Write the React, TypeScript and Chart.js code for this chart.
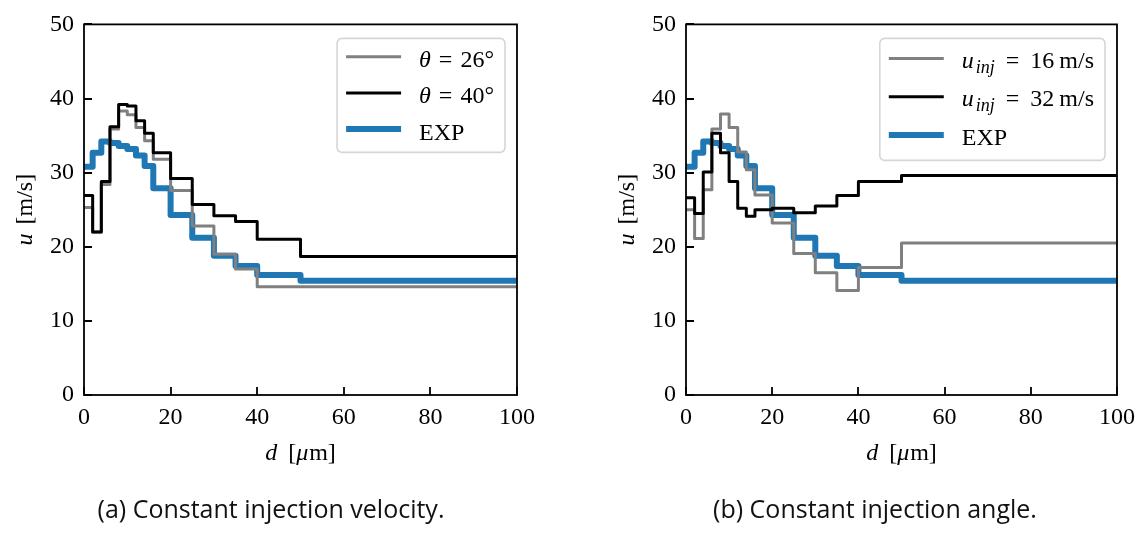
import React, { useEffect, useRef } from "react";
import { Chart, registerables } from "chart.js";

Chart.register(...registerables);

// ---------- data ----------
const binEdges = [0, 2, 4, 6, 8, 10, 12, 14, 16, 20, 25, 30, 35, 40, 50, 100];
const expValues = [30.8, 32.7, 34.2, 34.0, 33.6, 33.2, 32.3, 30.9, 27.9, 24.3, 21.2, 18.8, 17.4, 16.2, 15.4];
const theta26Values = [25.3, 22.0, 28.4, 35.9, 38.3, 37.8, 36.1, 34.3, 31.8, 27.6, 22.8, 19.0, 17.0, 14.6, 14.6];
const theta40Values = [26.9, 22.0, 28.8, 36.2, 39.2, 39.0, 37.0, 35.3, 32.7, 29.2, 25.7, 24.2, 23.4, 21.0, 18.7];
const uinj16Values = [25.0, 21.1, 27.7, 35.9, 37.9, 36.1, 32.8, 30.4, 27.0, 23.2, 19.1, 16.5, 14.1, 17.2, 20.5];
const uinj32Values = [26.6, 24.5, 30.1, 35.3, 32.7, 28.8, 25.2, 24.1, 25.0, 25.2, 24.6, 25.5, 26.9, 28.8, 29.6];
const xTicks = [0, 20, 40, 60, 80, 100];
const yTicks = [0, 10, 20, 30, 40, 50];
const captionA = "(a) Constant injection velocity.";
const captionB = "(b) Constant injection angle.";

// ---------- text helpers ----------
type Run = { t: string; it?: boolean; sub?: boolean; dx?: number };
const FS = 24;
const SERIF = '"Liberation Serif", "Times New Roman", serif';

function fontOf(r: Run, size: number) {
  const s = r.sub ? Math.round(size * 0.74) : size;
  return `${r.it ? "italic " : ""}${s}px ${SERIF}`;
}
function runsWidth(ctx: CanvasRenderingContext2D, runs: Run[], size: number) {
  let w = 0;
  for (const r of runs) {
    ctx.font = fontOf(r, size);
    w += ctx.measureText(r.t).width + (r.dx || 0);
  }
  return w;
}
function drawRuns(ctx: CanvasRenderingContext2D, runs: Run[], x: number, y: number, size: number) {
  let cx = x;
  for (const r of runs) {
    ctx.font = fontOf(r, size);
    cx += r.dx || 0;
    ctx.fillText(r.t, cx, r.sub ? y + size * 0.22 : y);
    cx += ctx.measureText(r.t).width;
  }
}

type Series = { values: number[]; color: string; width: number; label: Run[]; order: number };

type PanelCfg = {
  series: Series[];
  axisLeft: number; // width reserved for y axis
  padRight: number;
  caption: string;
  captionX: number;
  legendRowGap: number;
  legendFirst: number;
  legendHeight: number;
  legendTextDy: number;
};

function toSteps(vals: number[]) {
  const pts = vals.map((v, i) => ({ x: binEdges[i], y: v }));
  pts.push({ x: binEdges[binEdges.length - 1], y: vals[vals.length - 1] });
  return pts;
}

function makeOverlay(cfg: PanelCfg) {
  return {
    id: "overlay",
    afterDraw(chart: any) {
      const { ctx, chartArea } = chart;
      const { left, right, top, bottom } = chartArea;
      const xs = chart.scales.x;
      const ys = chart.scales.y;
      ctx.save();
      ctx.strokeStyle = "#000";
      ctx.lineWidth = 1.8;
      ctx.lineCap = "butt";
      // inward ticks
      ctx.beginPath();
      for (const v of xTicks) {
        const px = Math.round(xs.getPixelForValue(v));
        ctx.moveTo(px, bottom);
        ctx.lineTo(px, bottom - 8);
      }
      for (const v of yTicks) {
        const py = Math.round(ys.getPixelForValue(v));
        ctx.moveTo(left, py);
        ctx.lineTo(left + 8, py);
      }
      ctx.stroke();
      // frame
      ctx.strokeRect(left, top, right - left, bottom - top);

      // x label
      ctx.fillStyle = "#000";
      ctx.textBaseline = "alphabetic";
      ctx.textAlign = "left";
      const xl: Run[] = [{ t: "d", it: true }, { t: "[", dx: 11 }, { t: "μ", it: true }, { t: "m]", dx: 1 }];
      const xw = runsWidth(ctx, xl, FS);
      drawRuns(ctx, xl, (left + right) / 2 - xw / 2, 460, FS);

      // y label
      const yl: Run[] = [{ t: "u", it: true }, { t: "[m/s]", dx: 9 }];
      const yw = runsWidth(ctx, yl, FS);
      ctx.save();
      ctx.translate(left - 52, (top + bottom) / 2);
      ctx.rotate(-Math.PI / 2);
      drawRuns(ctx, yl, -yw / 2, 0, FS);
      ctx.restore();

      // legend
      let maxW = 0;
      for (const s of cfg.series) maxW = Math.max(maxW, runsWidth(ctx, s.label, FS));
      const handleLen = 55;
      const padL = 9;
      const gap = 18;
      const padR = 11;
      const boxW = padL + handleLen + gap + maxW + padR;
      const boxR = right - 12;
      const boxL = boxR - boxW;
      const boxT = top + 14;
      const boxH = cfg.legendHeight;
      const rad = 5;
      ctx.beginPath();
      ctx.moveTo(boxL + rad, boxT);
      ctx.lineTo(boxR - rad, boxT);
      ctx.arcTo(boxR, boxT, boxR, boxT + rad, rad);
      ctx.lineTo(boxR, boxT + boxH - rad);
      ctx.arcTo(boxR, boxT + boxH, boxR - rad, boxT + boxH, rad);
      ctx.lineTo(boxL + rad, boxT + boxH);
      ctx.arcTo(boxL, boxT + boxH, boxL, boxT + boxH - rad, rad);
      ctx.lineTo(boxL, boxT + rad);
      ctx.arcTo(boxL, boxT, boxL + rad, boxT, rad);
      ctx.closePath();
      ctx.fillStyle = "rgba(255,255,255,0.85)";
      ctx.fill();
      ctx.strokeStyle = "#d6d6d6";
      ctx.lineWidth = 1.6;
      ctx.stroke();
      cfg.series.forEach((s, i) => {
        const ly = boxT + cfg.legendFirst + i * cfg.legendRowGap;
        ctx.strokeStyle = s.color;
        ctx.lineWidth = s.width;
        ctx.lineCap = "butt";
        ctx.beginPath();
        ctx.moveTo(boxL + padL, ly);
        ctx.lineTo(boxL + padL + handleLen, ly);
        ctx.stroke();
        ctx.fillStyle = "#000";
        drawRuns(ctx, s.label, boxL + padL + handleLen + gap, ly + cfg.legendTextDy, FS);
      });

      // caption
      ctx.font = '25px "Open Sans", "Noto Sans", sans-serif';
      ctx.fillStyle = "#111";
      ctx.textAlign = "center";
      ctx.fillText(cfg.caption, cfg.captionX, 518);
      ctx.restore();
    },
  };
}

function Panel({ cfg, width }: { cfg: PanelCfg; width: number }) {
  const ref = useRef<HTMLCanvasElement | null>(null);
  useEffect(() => {
    if (!ref.current) return;
    const tickFont = { family: SERIF, size: FS };
    const chart = new Chart(ref.current, {
      type: "line",
      data: {
        datasets: cfg.series.map((s) => ({
          label: s.label.map((r) => r.t).join(""),
          data: toSteps(s.values),
          borderColor: s.color,
          backgroundColor: s.color,
          borderWidth: s.width,
          stepped: true,
          pointRadius: 0,
          fill: false,
          clip: 0,
          order: s.order,
          borderJoinStyle: "round",
          borderCapStyle: "butt",
        })),
      },
      options: {
        animation: false,
        responsive: false,
        maintainAspectRatio: false,
        layout: { padding: { left: 0, right: cfg.padRight, top: 21, bottom: 0 } },
        plugins: { legend: { display: false }, tooltip: { enabled: false } },
        scales: {
          x: {
            type: "linear",
            min: 0,
            max: 100,
            afterBuildTicks: (s: any) => {
              s.ticks = xTicks.map((v) => ({ value: v }));
            },
            grid: { display: false, drawTicks: false },
            border: { display: false },
            ticks: { font: tickFont, color: "#000", padding: 8, maxRotation: 0, autoSkip: false },
            afterFit: (s: any) => {
              s.height = 140;
            },
          },
          y: {
            type: "linear",
            min: 0,
            max: 50,
            afterBuildTicks: (s: any) => {
              s.ticks = yTicks.map((v) => ({ value: v }));
            },
            grid: { display: false, drawTicks: false },
            border: { display: false },
            ticks: { font: tickFont, color: "#000", padding: 10, autoSkip: false },
            afterFit: (s: any) => {
              s.width = cfg.axisLeft;
            },
          },
        },
      } as any,
      plugins: [makeOverlay(cfg)],
    });
    return () => chart.destroy();
  }, []);
  return <canvas ref={ref} width={width} height={535} style={{ display: "block", width, height: 535 }} />;
}

const GRAY = "#808080";
const BLACK = "#000000";
const BLUE = "#1f77b4";

const panelA: PanelCfg = {
  series: [
    {
      values: theta26Values,
      color: GRAY,
      width: 3,
      order: 1,
      label: [{ t: "θ", it: true }, { t: "=", dx: 8 }, { t: "26°", dx: 8 }],
    },
    {
      values: theta40Values,
      color: BLACK,
      width: 3,
      order: 0,
      label: [{ t: "θ", it: true }, { t: "=", dx: 8 }, { t: "40°", dx: 8 }],
    },
    { values: expValues, color: BLUE, width: 6, order: 2, label: [{ t: "EXP" }] },
  ],
  axisLeft: 84,
  padRight: 54,
  caption: captionA,
  captionX: 271,
  legendRowGap: 36.2,
  legendFirst: 18.3,
  legendHeight: 114,
  legendTextDy: 10.5,
};

const panelB: PanelCfg = {
  series: [
    {
      values: uinj16Values,
      color: GRAY,
      width: 3,
      order: 1,
      label: [
        { t: "u", it: true },
        { t: "inj", it: true, sub: true, dx: 2 },
        { t: "=", dx: 11 },
        { t: "16", dx: 11 },
        { t: "m/s", dx: 5 },
      ],
    },
    {
      values: uinj32Values,
      color: BLACK,
      width: 3,
      order: 0,
      label: [
        { t: "u", it: true },
        { t: "inj", it: true, sub: true, dx: 2 },
        { t: "=", dx: 11 },
        { t: "32", dx: 11 },
        { t: "m/s", dx: 5 },
      ],
    },
    { values: expValues, color: BLUE, width: 6, order: 2, label: [{ t: "EXP" }] },
  ],
  axisLeft: 115,
  padRight: 24,
  caption: captionB,
  captionX: 304,
  legendRowGap: 38.3,
  legendFirst: 20,
  legendHeight: 122,
  legendTextDy: 9.5,
};

export default function App() {
  return (
    <div style={{ position: "absolute", left: 0, top: 0, width: 1143, height: 535, background: "#fff", display: "flex" }}>
      <Panel cfg={panelA} width={571} />
      <Panel cfg={panelB} width={572} />
    </div>
  );
}
